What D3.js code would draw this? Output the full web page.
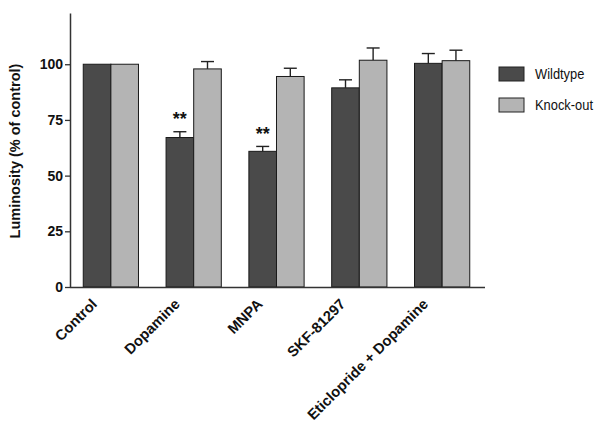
<!DOCTYPE html>
<html>
<head>
<meta charset="utf-8">
<script src="https://cdn.jsdelivr.net/npm/d3@7"></script>
<style>
  html, body { margin: 0; padding: 0; background: #fff; }
  svg { display: block; }
</style>
</head>
<body>
<svg width="600" height="436"></svg>
<script>
const categories = ['Control', 'Dopamine', 'MNPA', 'SKF-81297', 'Eticlopride + Dopamine']
const series = ['Wildtype', 'Knock-out']
const wildtype = [100, 67.1, 60.9, 89.4, 100.4]
const wildtypeErr = [0, 2.6, 2.2, 3.6, 4.4]
const knockout = [100, 97.9, 94.5, 101.8, 101.6]
const knockoutErr = [0, 3.3, 3.7, 5.5, 4.7]
const stars = ['', '**', '**', '', '']
const yTicks = [0, 25, 50, 75, 100]

const colors = { 'Wildtype': '#4a4a4a', 'Knock-out': '#b4b4b4' }
const font = "'Liberation Sans', Arial, sans-serif"

const svg = d3.select('svg')

const x = d3.scaleBand().domain(categories).range([70, 483])
  .paddingInner(0.333).paddingOuter(0.16)
const xSub = d3.scaleBand().domain(series).range([0, x.bandwidth()])
const y = d3.scaleLinear().domain([0, 123]).range([287, 13])

const rows = categories.map((c, i) => ({
  cat: c,
  star: stars[i],
  bars: [
    { s: 'Wildtype', v: wildtype[i], e: wildtypeErr[i] },
    { s: 'Knock-out', v: knockout[i], e: knockoutErr[i] }
  ]
}))

const groups = svg.append('g').selectAll('g')
  .data(rows).enter().append('g')
  .attr('transform', d => `translate(${x(d.cat)},0)`)

const bar = groups.selectAll('g.bar')
  .data(d => d.bars).enter().append('g').attr('class', 'bar')

// error bars first so the bar outline sits on top
bar.filter(d => d.e > 0).append('line')
  .attr('x1', d => xSub(d.s) + xSub.bandwidth() / 2)
  .attr('x2', d => xSub(d.s) + xSub.bandwidth() / 2)
  .attr('y1', d => y(d.v))
  .attr('y2', d => y(d.v + d.e))
  .attr('stroke', '#222').attr('stroke-width', 1.4)
bar.filter(d => d.e > 0).append('line')
  .attr('x1', d => xSub(d.s) + xSub.bandwidth() / 2 - 6.5)
  .attr('x2', d => xSub(d.s) + xSub.bandwidth() / 2 + 6.5)
  .attr('y1', d => y(d.v + d.e))
  .attr('y2', d => y(d.v + d.e))
  .attr('stroke', '#222').attr('stroke-width', 1.4)

bar.append('rect')
  .attr('x', d => xSub(d.s))
  .attr('y', d => y(d.v))
  .attr('width', xSub.bandwidth())
  .attr('height', d => y(0) - y(d.v))
  .attr('fill', d => colors[d.s])
  .attr('stroke', '#1a1a1a').attr('stroke-width', 1)

// significance marks
groups.filter(d => d.star).append('text')
  .attr('x', xSub('Wildtype') + xSub.bandwidth() / 2)
  .attr('y', d => y(d.bars[0].v + d.bars[0].e) - 6.5)
  .attr('text-anchor', 'middle')
  .style('font', `bold 18px ${font}`)
  .attr('fill', '#111')
  .text(d => d.star)

// y axis
const yAxis = svg.append('g')
  .attr('transform', 'translate(70,0)')
  .call(d3.axisLeft(y).tickValues(yTicks).tickSize(5).tickPadding(2).tickSizeOuter(0))
yAxis.select('.domain').attr('stroke', '#333').attr('stroke-width', 1.5)
yAxis.selectAll('.tick line').attr('stroke', '#333').attr('stroke-width', 1.3)
yAxis.selectAll('.tick text')
  .style('font', `bold 14px ${font}`).attr('fill', '#111')

// x axis line
const xAxis = svg.append('g')
  .attr('transform', `translate(0,${y(0)})`)
  .call(d3.axisBottom(x).tickSize(0).tickFormat(''))
xAxis.select('.domain').attr('stroke', '#333').attr('stroke-width', 1.5)
  .attr('d', `M70,0.5H485`)

// rotated category labels, ending just left of each group's centre
svg.append('g').selectAll('text')
  .data(categories).enter().append('text')
  .attr('transform', d => `translate(${x(d) + x.bandwidth() / 2 - 13},${y(0) + 18}) rotate(-45)`)
  .attr('text-anchor', 'end')
  .style('font', `bold 14.7px ${font}`)
  .attr('fill', '#111')
  .text(d => d)

// y title
svg.append('text')
  .attr('transform', `translate(20,${(y(0) + y(123)) / 2 + 1}) rotate(-90)`)
  .attr('text-anchor', 'middle')
  .style('font', `bold 14.5px ${font}`)
  .attr('fill', '#111')
  .text('Luminosity (% of control)')

// legend
const legend = svg.append('g').attr('transform', 'translate(499,67)')
const item = legend.selectAll('g').data(series).enter().append('g')
  .attr('transform', (d, i) => `translate(0,${i * 31})`)
item.append('rect')
  .attr('width', 25).attr('height', 14)
  .attr('fill', d => colors[d])
  .attr('stroke', '#222').attr('stroke-width', 1)
item.append('text')
  .attr('transform', 'translate(36,12) scale(0.86,1)')
  .style('font', `15px ${font}`)
  .attr('fill', '#111')
  .text(d => d)
</script>
</body>
</html>
